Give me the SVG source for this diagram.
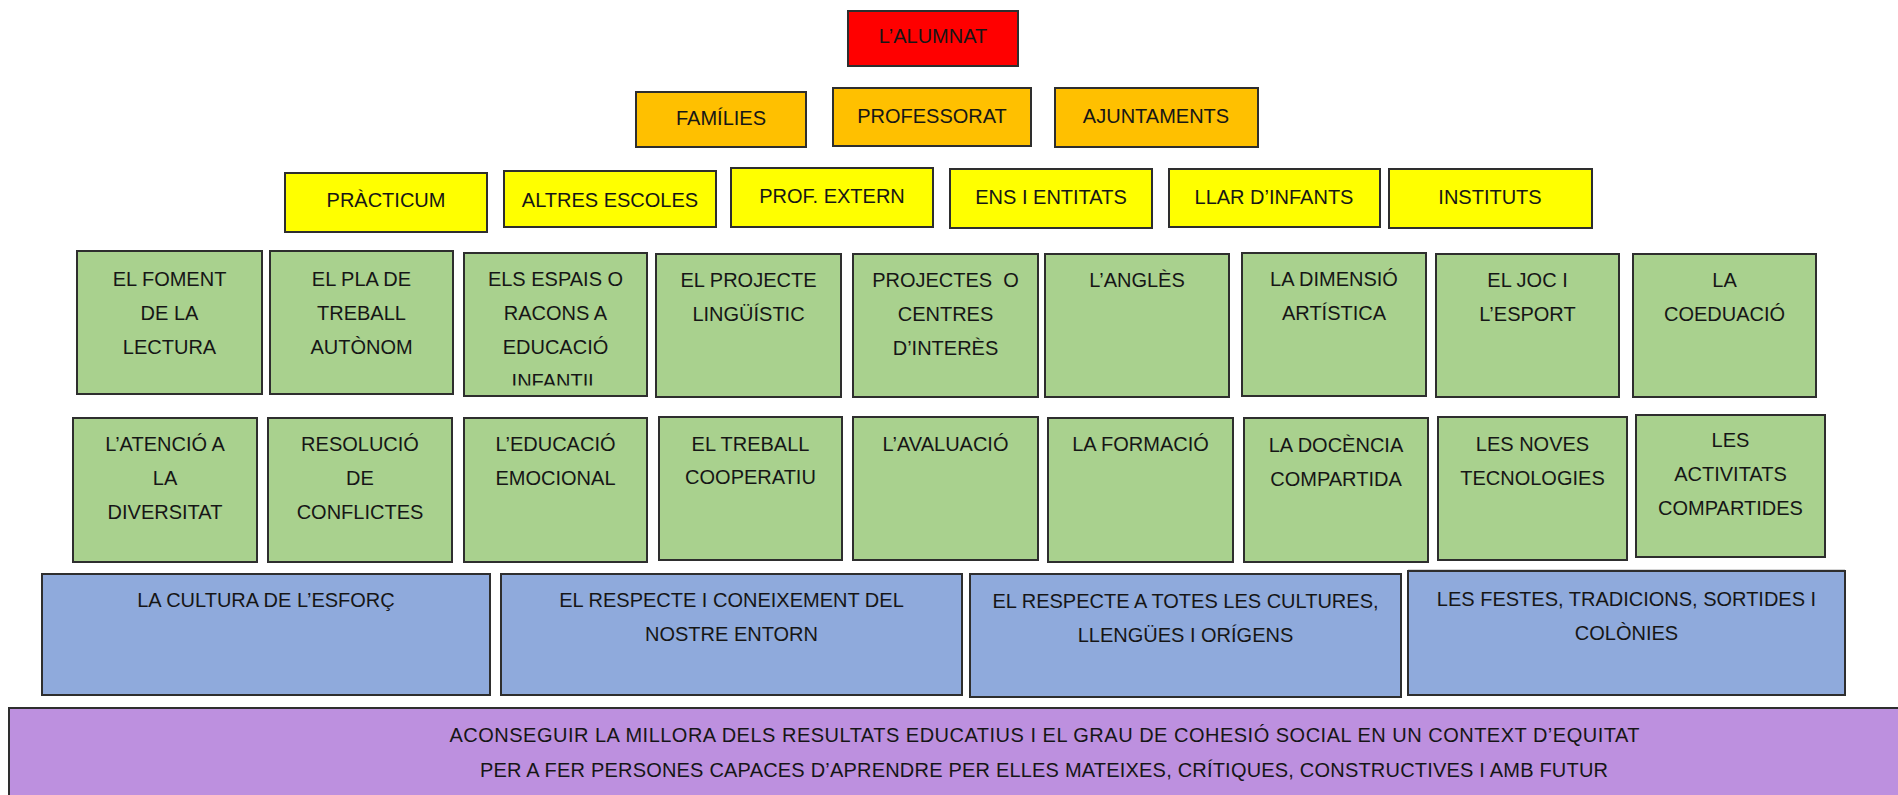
<svg xmlns="http://www.w3.org/2000/svg" width="1898" height="795" viewBox="0 0 1898 795">
<style>
rect.b{stroke:#2e2e2e;stroke-width:2}
.red{fill:#FF0000}.org{fill:#FFC000}.yel{fill:#FFFF00}.grn{fill:#A9D18E}.blu{fill:#8FAADC}.pur{fill:#BD90DF}
text{font-family:"Liberation Sans",Arial,sans-serif;font-size:20px;fill:#161616;text-anchor:middle}
</style>
<defs>
<clipPath id="clipEsp"><rect x="464" y="253" width="183" height="132.5"/></clipPath>
</defs>
<rect width="1898" height="795" fill="#fff"/>

<g id="alumnat"><rect class="b red" x="848" y="11" width="170" height="55"/><text x="933" y="43">L’ALUMNAT</text></g>

<g id="families"><rect class="b org" x="636" y="92" width="170" height="55"/><text x="721" y="125">FAMÍLIES</text></g>
<g id="professorat"><rect class="b org" x="833" y="88" width="198" height="58"/><text x="932" y="123">PROFESSORAT</text></g>
<g id="ajuntaments"><rect class="b org" x="1055" y="88" width="203" height="59"/><text x="1156" y="123">AJUNTAMENTS</text></g>

<g id="practicum"><rect class="b yel" x="285" y="173" width="202" height="59"/><text x="386" y="207">PRÀCTICUM</text></g>
<g id="altres-escoles"><rect class="b yel" x="504" y="171" width="212" height="56"/><text x="610" y="207">ALTRES ESCOLES</text></g>
<g id="prof-extern"><rect class="b yel" x="731" y="168" width="202" height="59"/><text x="832" y="203">PROF. EXTERN</text></g>
<g id="ens-entitats"><rect class="b yel" x="950" y="169" width="202" height="59"/><text x="1051" y="204">ENS I ENTITATS</text></g>
<g id="llar-infants"><rect class="b yel" x="1169" y="169" width="211" height="58"/><text x="1274" y="204">LLAR D’INFANTS</text></g>
<g id="instituts"><rect class="b yel" x="1389" y="169" width="203" height="59"/><text x="1490" y="204">INSTITUTS</text></g>

<g id="foment-lectura"><rect class="b grn" x="77" y="251" width="185" height="143"/><text x="169.5" y="286">EL FOMENT</text><text x="169.5" y="320">DE LA</text><text x="169.5" y="354">LECTURA</text></g>
<g id="pla-treball"><rect class="b grn" x="270" y="251" width="183" height="143"/><text x="361.5" y="286">EL PLA DE</text><text x="361.5" y="320">TREBALL</text><text x="361.5" y="354">AUTÒNOM</text></g>
<g id="espais-racons"><rect class="b grn" x="464" y="253" width="183" height="143"/><g clip-path="url(#clipEsp)"><text x="555.5" y="286">ELS ESPAIS O</text><text x="555.5" y="320">RACONS A</text><text x="555.5" y="354">EDUCACIÓ</text><text x="555.5" y="388">INFANTIL</text></g></g>
<g id="projecte-linguistic"><rect class="b grn" x="656" y="254" width="185" height="143"/><text x="748.5" y="287">EL PROJECTE</text><text x="748.5" y="321">LINGÜÍSTIC</text></g>
<g id="projectes-centres"><rect class="b grn" x="853" y="254" width="185" height="143"/><text x="945.5" y="287" xml:space="preserve">PROJECTES  O</text><text x="945.5" y="321">CENTRES</text><text x="945.5" y="355">D’INTERÈS</text></g>
<g id="angles"><rect class="b grn" x="1045" y="254" width="184" height="143"/><text x="1137" y="287">L’ANGLÈS</text></g>
<g id="dimensio-artistica"><rect class="b grn" x="1242" y="253" width="184" height="143"/><text x="1334" y="286">LA DIMENSIÓ</text><text x="1334" y="320">ARTÍSTICA</text></g>
<g id="joc-esport"><rect class="b grn" x="1436" y="254" width="183" height="143"/><text x="1527.5" y="287">EL JOC I</text><text x="1527.5" y="321">L’ESPORT</text></g>
<g id="coeducacio"><rect class="b grn" x="1633" y="254" width="183" height="143"/><text x="1724.5" y="287">LA</text><text x="1724.5" y="321">COEDUACIÓ</text></g>

<g id="atencio-diversitat"><rect class="b grn" x="73" y="418" width="184" height="144"/><text x="165" y="451">L’ATENCIÓ A</text><text x="165" y="485">LA</text><text x="165" y="519">DIVERSITAT</text></g>
<g id="resolucio-conflictes"><rect class="b grn" x="268" y="418" width="184" height="144"/><text x="360" y="451">RESOLUCIÓ</text><text x="360" y="485">DE</text><text x="360" y="519">CONFLICTES</text></g>
<g id="educacio-emocional"><rect class="b grn" x="464" y="418" width="183" height="144"/><text x="555.5" y="451">L’EDUCACIÓ</text><text x="555.5" y="485">EMOCIONAL</text></g>
<g id="treball-cooperatiu"><rect class="b grn" x="659" y="417" width="183" height="143"/><text x="750.5" y="451">EL TREBALL</text><text x="750.5" y="484">COOPERATIU</text></g>
<g id="avaluacio"><rect class="b grn" x="853" y="417" width="185" height="143"/><text x="945.5" y="451">L’AVALUACIÓ</text></g>
<g id="formacio"><rect class="b grn" x="1048" y="418" width="185" height="144"/><text x="1140.5" y="451">LA FORMACIÓ</text></g>
<g id="docencia-compartida"><rect class="b grn" x="1244" y="418" width="184" height="144"/><text x="1336" y="452">LA DOCÈNCIA</text><text x="1336" y="486">COMPARTIDA</text></g>
<g id="noves-tecnologies"><rect class="b grn" x="1438" y="417" width="189" height="143"/><text x="1532.5" y="451">LES NOVES</text><text x="1532.5" y="485">TECNOLOGIES</text></g>
<g id="activitats-compartides"><rect class="b grn" x="1636" y="415" width="189" height="142"/><text x="1730.5" y="447">LES</text><text x="1730.5" y="481">ACTIVITATS</text><text x="1730.5" y="515">COMPARTIDES</text></g>

<g id="connectors"><line x1="1408" y1="569.5" x2="1845" y2="569.5" stroke="#d4d4d4" stroke-width="1"/></g>

<g id="cultura-esforc"><rect class="b blu" x="42" y="574" width="448" height="121"/><text x="266" y="607">LA CULTURA DE L’ESFORÇ</text></g>
<g id="respecte-entorn"><rect class="b blu" x="501" y="574" width="461" height="121"/><text x="731.5" y="607">EL RESPECTE I CONEIXEMENT DEL</text><text x="731.5" y="641">NOSTRE ENTORN</text></g>
<g id="respecte-cultures"><rect class="b blu" x="970" y="574" width="431" height="123"/><text x="1185.5" y="608">EL RESPECTE A TOTES LES CULTURES,</text><text x="1185.5" y="642">LLENGÜES I ORÍGENS</text></g>
<g id="festes-tradicions"><rect class="b blu" x="1408" y="571" width="437" height="124"/><text x="1626.5" y="606">LES FESTES, TRADICIONS, SORTIDES I</text><text x="1626.5" y="640">COLÒNIES</text></g>

<g id="objectiu"><rect class="b pur" x="9" y="708" width="1900" height="100"/><text x="1044.5" y="742" textLength="1190" lengthAdjust="spacing">ACONSEGUIR LA MILLORA DELS RESULTATS EDUCATIUS I EL GRAU DE COHESIÓ SOCIAL EN UN CONTEXT D’EQUITAT</text><text x="1044" y="777" textLength="1128" lengthAdjust="spacing">PER A FER PERSONES CAPACES D’APRENDRE PER ELLES MATEIXES, CRÍTIQUES, CONSTRUCTIVES I AMB FUTUR</text></g>
</svg>
